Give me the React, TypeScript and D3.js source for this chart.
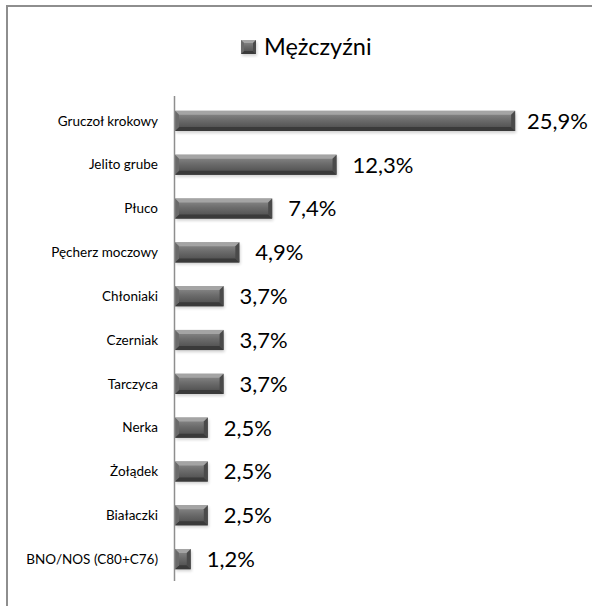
import React, { useRef, useEffect } from 'react';
import * as d3 from 'd3';

// chart data
const categories = [
  'Gruczoł krokowy',
  'Jelito grube',
  'Płuco',
  'Pęcherz moczowy',
  'Chłoniaki',
  'Czerniak',
  'Tarczyca',
  'Nerka',
  'Żołądek',
  'Białaczki',
  'BNO/NOS (C80+C76)',
];
const values = [25.9, 12.3, 7.4, 4.9, 3.7, 3.7, 3.7, 2.5, 2.5, 2.5, 1.2];
const seriesName = 'Mężczyźni';

const W = 592;
const H = 606;
const FONT = 'Lato, "Open Sans", "Liberation Sans", sans-serif';

const fmt = (v: number) => d3.format('.1f')(v).replace('.', ',') + '%';

// bevelled 3D-ish bar: gradient body plus four edge facets
const drawBar = (g: any, x: number, y: number, w: number, h: number, b: number) => {
  const bb = Math.min(b, w / 2, h / 2);
  g.append('rect')
    .attr('x', x + 1).attr('y', y + 2)
    .attr('width', w).attr('height', h)
    .attr('fill', '#000').attr('opacity', 0.18)
    .attr('filter', 'url(#soft)');
  g.append('rect')
    .attr('x', x).attr('y', y)
    .attr('width', w).attr('height', h)
    .attr('fill', 'url(#barGrad)');
  const facet = (pts: number[][], fill: string) =>
    g.append('polygon').attr('points', pts.map(p => p.join(',')).join(' ')).attr('fill', fill);
  // top
  facet([[x, y], [x + w, y], [x + w - bb, y + bb], [x + bb, y + bb]], '#a4a4a4');
  // bottom
  facet([[x, y + h], [x + w, y + h], [x + w - bb, y + h - bb], [x + bb, y + h - bb]], '#3a3a3a');
  // left
  facet([[x, y], [x + bb, y + bb], [x + bb, y + h - bb], [x, y + h]], '#6a6a6a');
  // right
  facet([[x + w, y], [x + w - bb, y + bb], [x + w - bb, y + h - bb], [x + w, y + h]], '#4a4a4a');
};

const HBarChart = () => {
  const ref = useRef<SVGSVGElement>(null);

  useEffect(() => {
    const svg = d3.select(ref.current);
    svg.selectAll('*').remove();

    const defs = svg.append('defs');
    const grad = defs.append('linearGradient')
      .attr('id', 'barGrad')
      .attr('x1', 0).attr('y1', 0).attr('x2', 0).attr('y2', 1);
    grad.append('stop').attr('offset', '0%').attr('stop-color', '#909090');
    grad.append('stop').attr('offset', '45%').attr('stop-color', '#6c6c6c');
    grad.append('stop').attr('offset', '100%').attr('stop-color', '#484848');
    defs.append('filter').attr('id', 'soft')
      .append('feGaussianBlur').attr('stdDeviation', 1.5);

    // outer frame (cropped at right/bottom like the reference)
    svg.append('rect')
      .attr('x', 7).attr('y', 6)
      .attr('width', W + 20).attr('height', H + 20)
      .attr('fill', '#fff')
      .attr('stroke', '#8e8e8e')
      .attr('stroke-width', 2);

    // Scales
    const y = d3.scaleBand<string>()
      .domain(categories)
      .range([99, 581])
      .paddingInner(0.54)
      .paddingOuter(0.27);

    const x = d3.scaleLinear()
      .domain([0, 30])
      .range([175, 569]);

    const chart = svg.append('g');

    // Bars
    categories.forEach((c, i) => {
      const x0 = x(0);
      drawBar(chart, x0, y(c)!, x(values[i]) - x0, y.bandwidth(), 4);
    });

    // Axis line
    chart.append('line')
      .attr('x1', 174.5).attr('x2', 174.5)
      .attr('y1', 96).attr('y2', 581)
      .attr('stroke', '#8e8e8e')
      .attr('stroke-width', 1.5);

    // Category labels
    chart.selectAll('text.cat')
      .data(categories)
      .join('text')
      .attr('class', 'cat')
      .attr('x', 158)
      .attr('y', d => y(d)! + y.bandwidth() / 2)
      .attr('dy', '0.35em')
      .attr('text-anchor', 'end')
      .style('font-family', FONT)
      .style('font-size', '13.5px')
      .attr('fill', '#000')
      .text(d => d);

    // Value labels, pushed back inside the frame if too long
    chart.selectAll('text.val')
      .data(values)
      .join('text')
      .attr('class', 'val')
      .attr('x', d => x(d) + 16)
      .attr('y', (d, i) => y(categories[i])! + y.bandwidth() / 2)
      .attr('dy', '0.36em')
      .style('font-family', FONT)
      .style('font-size', '22px')
      .attr('fill', '#000')
      .text(d => fmt(d))
      .each(function (d) {
        const el = this as SVGTextElement;
        const len = el.getComputedTextLength();
        if (x(d) + 16 + len > 588) d3.select(el).attr('x', 588 - len);
      });

    // Legend
    const lg = svg.append('g');
    drawBar(lg, 241, 40, 15, 14, 3);
    lg.append('text')
      .attr('x', 264)
      .attr('y', 47)
      .attr('dy', '0.36em')
      .style('font-family', FONT)
      .style('font-size', '23.5px')
      .attr('fill', '#000')
      .text(seriesName);
  }, []);

  return (
    <svg
      ref={ref}
      width={W}
      height={H}
      style={{ position: 'absolute', left: 0, top: 0, display: 'block' }}
    />
  );
};

export default function App() {
  return <HBarChart />;
}
